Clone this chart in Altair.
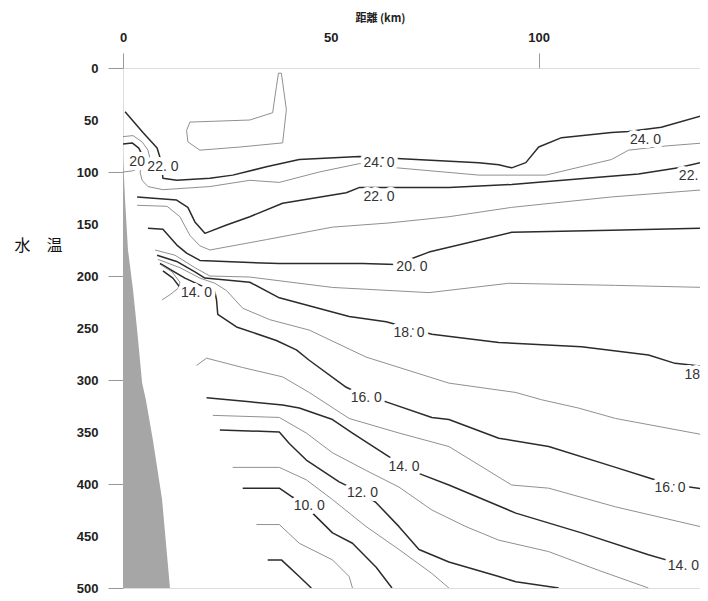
import altair as alt
import pandas as pd

# ---- contour lines read from the section: (distance km, depth m) ----
C25 = [(38.1, 5), (39.3, 40), (38.4, 72), (28.1, 76), (18.5, 79), (15.6, 71), (15.3, 60),
       (16.1, 52), (30.5, 50), (36.0, 43), (36.9, 18), (37.4, 5), (38.1, 5)]
C24 = [(0.5, 42), (4.8, 62), (8.2, 77), (8.9, 86), (9.4, 98), (9.6, 106), (12.9, 108), (20.9, 106),
       (26.4, 103), (34.5, 95), (42.4, 88), (52.0, 86), (56.8, 85), (65.9, 87), (85.6, 91), (90.4, 93),
       (93.5, 96), (96.9, 91), (100.0, 76), (105.5, 67), (117.5, 62), (121.6, 61), (129.5, 57), (140.0, 45)]
C23 = [(4.8, 93), (4.1, 100), (4.6, 108), (6.0, 114), (9.6, 117), (20.9, 114), (30.5, 108), (37.6, 110),
       (47.2, 100), (56.8, 92), (65.9, 96), (85.6, 103), (101.7, 103), (117.5, 88), (121.6, 79),
       (130.5, 75), (140.0, 72)]
C22 = [(3.4, 124), (12.9, 127), (15.6, 134), (17.3, 148), (19.7, 159), (24.9, 151), (30.5, 143),
       (38.4, 130), (53.7, 120), (56.8, 115), (65.9, 115), (78.4, 115), (93.5, 112), (114.4, 105),
       (124.0, 102), (133.6, 96), (140.0, 90)]
C21 = [(3.4, 132), (10.6, 133), (13.7, 143), (16.1, 161), (18.5, 171), (20.9, 175), (34.5, 165),
       (50.4, 153), (64.0, 149), (78.4, 143), (93.5, 134), (117.5, 124), (140.0, 117)]
C20 = [(6.0, 154), (9.6, 155), (12.9, 170), (15.3, 178), (18.5, 185), (30.5, 187), (37.6, 188),
       (57.6, 188), (65.7, 189), (73.6, 177), (93.5, 158), (117.5, 156), (140.0, 154)]
C19 = [(7.7, 175), (12.5, 180), (17.3, 192), (20.9, 200), (30.5, 201), (50.4, 211), (73.6, 216),
       (92.8, 207), (118.5, 209), (140.0, 211)]
C18 = [(8.2, 180), (12.9, 186), (17.3, 196), (19.7, 202), (30.5, 206), (37.6, 221), (54.4, 239),
       (63.3, 244), (74.3, 256), (90.4, 264), (110.3, 268), (126.4, 276), (132.8, 284), (140.0, 287)]
C17 = [(8.4, 184), (13.7, 192), (18.5, 202), (22.1, 207), (24.9, 214), (28.8, 231), (35.3, 242),
       (44.8, 252), (58.5, 278), (78.4, 303), (94.5, 312), (100.7, 319), (109.6, 327), (118.5, 337),
       (140.0, 353)]
C16 = [(8.9, 188), (14.9, 202), (19.7, 211), (22.1, 215), (22.5, 223), (22.8, 237), (27.3, 249),
       (36.9, 262), (41.7, 271), (44.8, 281), (53.7, 307), (58.5, 316), (63.3, 321), (74.3, 336),
       (78.4, 338), (90.4, 356), (102.4, 364), (118.5, 384), (126.4, 394), (131.2, 400), (140.0, 405)]
C15_HOOK = [(9.4, 190), (11.8, 196), (13.7, 206), (13.2, 212), (11.3, 218), (9.4, 223)]
C15 = [(17.7, 286), (20.1, 279), (28.8, 288), (38.4, 297), (44.8, 312), (54.4, 337), (66.4, 351),
       (78.4, 364), (93.5, 401), (102.4, 404), (118.5, 422), (140.0, 442)]
C14_HOOK = [(9.6, 195), (12.0, 202), (13.9, 212)]
C14 = [(20.1, 317), (30.5, 321), (38.4, 324), (42.4, 327), (50.4, 338), (55.2, 351), (63.3, 372),
       (67.6, 383), (71.9, 391), (78.4, 401), (94.5, 428), (110.3, 447), (126.4, 468), (135.0, 478),
       (140.0, 483)]
C13 = [(21.6, 334), (37.6, 336), (44.1, 351), (50.4, 370), (58.5, 387), (66.4, 403), (74.3, 425),
       (82.5, 441), (90.4, 454), (102.4, 465), (114.4, 483), (126.4, 500)]
C12 = [(23.3, 348), (37.6, 350), (40.0, 361), (44.1, 377), (52.0, 398), (57.6, 409), (60.9, 418),
       (66.4, 441), (71.2, 463), (78.4, 475), (90.4, 489), (94.5, 494), (104.8, 500)]
C11 = [(26.4, 384), (37.6, 384), (44.1, 396), (50.4, 415), (58.5, 441), (66.4, 463), (74.3, 486),
       (78.4, 500)]
C10 = [(28.8, 404), (37.6, 404), (40.5, 412), (44.8, 421), (45.6, 428), (50.4, 447), (55.2, 457),
       (60.9, 480), (64.7, 500)]
C9 = [(32.1, 439), (37.6, 439), (42.4, 457), (50.4, 473), (54.4, 489), (55.2, 500)]
C8 = [(34.8, 473), (38.1, 473), (42.4, 489), (45.3, 500)]
EDDY_A = [(0.0, 66), (2.4, 65), (4.6, 71), (6.0, 79), (6.5, 87), (5.8, 94)]
EDDY_B = [(0.0, 73), (2.2, 72), (3.8, 77), (4.8, 85)]
EDDY_C = [(0.0, 100), (2.2, 99), (4.1, 96)]

SEGMENTS = [
    ("c25", "thin", C25), ("c24", "thick", C24), ("c23", "thin", C23), ("c22", "thick", C22),
    ("c21", "thin", C21), ("c20", "thick", C20), ("c19", "thin", C19), ("c18", "thick", C18),
    ("c17", "thin", C17), ("c16", "thick", C16), ("c15h", "thin", C15_HOOK), ("c15", "thin", C15),
    ("c14h", "thick", C14_HOOK), ("c14", "thick", C14), ("c13", "thin", C13), ("c12", "thick", C12),
    ("c11", "thin", C11), ("c10", "thick", C10), ("c9", "thin", C9), ("c8", "thick", C8),
    ("ea", "thin", EDDY_A), ("eb", "thick", EDDY_B), ("ec", "thin", EDDY_C),
]

# ---- sea floor (grey slope) ----
LAND_DEPTH = [84, 127, 175, 213, 252, 303, 319, 358, 415, 500]
LAND_KM = [0.0, 0.5, 1.2, 2.4, 3.4, 4.6, 5.5, 7.2, 9.4, 11.3]

# ---- contour labels (centred) ----
LAB_TEXT = ["24. 0", "22. 0", "20. 0", "18. 0", "16. 0", "14. 0", "12. 0", "10. 0",
            "24. 0", "16. 0", "14. 0", "14. 0", "22. 0", "20"]
LAB_KM = [61.6, 61.6, 69.5, 68.8, 58.5, 67.6, 57.6, 44.8,
          125.7, 131.6, 134.8, 17.7, 9.6, 3.4]
LAB_DEPTH = [91, 124, 191, 255, 317, 384, 409, 421,
             69, 404, 479, 216, 95, 90]
# ---- contour labels at the right edge (right-aligned) ----
EDGE_TEXT = ["22.", "18"]
EDGE_KM = [138.4, 138.8]
EDGE_DEPTH = [104, 295]

X_MAX = 138.8
X_LABELS = [0, 50, 100]
Y_LABELS = list(range(0, 501, 50))

rows = []
for seg, w, pts in SEGMENTS:
    for i, (k, d) in enumerate(pts):
        rows.append({"seg": seg, "w": w, "i": i, "km": k, "depth": d})
lines_df = pd.DataFrame(rows)
land_df = pd.DataFrame({"km": LAND_KM, "depth": LAND_DEPTH})
lab_df = pd.DataFrame({"t": LAB_TEXT, "km": LAB_KM, "depth": LAB_DEPTH})
edge_df = pd.DataFrame({"t": EDGE_TEXT, "km": EDGE_KM, "depth": EDGE_DEPTH})

xs = alt.Scale(domain=[0, X_MAX], nice=False, zero=False)
ys = alt.Scale(domain=[0, 500], reverse=True, nice=False, zero=False)

xaxis = alt.Axis(
    orient="top", values=X_LABELS,
    tickOpacity={"condition": {"test": "datum.value == 50", "value": 0}, "value": 1},
    tickSize=15, tickColor="#999999", domain=False, grid=False, labelPadding=9,
    labelFontSize=13, labelFontWeight="bold", labelFont="Liberation Sans", labelColor="#222222",
    labelFlush=False, labelOverlap=False,
    title="距離 (km)", titleFontSize=11, titleFontWeight="bold", titleFont="Noto Sans CJK JP",
    titleColor="#222222", titleX=257, titleY=-50, titleAlign="center", titleBaseline="middle",
    titleAngle=0,
)
yaxis = alt.Axis(
    orient="left", values=Y_LABELS,
    tickOpacity={"condition": {"test": "datum.value % 100 != 0", "value": 0}, "value": 1},
    tickSize=15, tickColor="#999999", domain=False, grid=False, labelPadding=10,
    labelFontSize=13, labelFontWeight="bold", labelFont="Liberation Sans", labelColor="#222222",
    labelFlush=False, labelOverlap=False,
    title="水　温", titleFontSize=16, titleFontWeight="normal", titleFont="Noto Sans CJK JP",
    titleColor="#111111", titleAngle=0, titleX=-85, titleY=177, titleAlign="center",
    titleBaseline="middle",
)

X = alt.X("km:Q", scale=xs, axis=xaxis)
Y = alt.Y("depth:Q", scale=ys, axis=yaxis)

land = alt.Chart(land_df).mark_area(orient="horizontal", color="#a6a6a6").encode(
    x=alt.X("km:Q", scale=xs, axis=xaxis, stack=None), y=Y
)

lines = alt.Chart(lines_df).mark_line(clip=True, strokeJoin="round").encode(
    x=X, y=Y, detail="seg:N", order="i:Q",
    color=alt.Color("w:N", scale=alt.Scale(domain=["thick", "thin"], range=["#2b2b2b", "#909090"]), legend=None),
    strokeWidth=alt.StrokeWidth("w:N", scale=alt.Scale(domain=["thick", "thin"], range=[1.5, 1.0]), legend=None),
)

def label_layers(df, align):
    halo = alt.Chart(df).mark_text(
        font="Liberation Sans", fontSize=14, color="white", stroke="white", strokeWidth=8,
        strokeJoin="round", align=align, baseline="middle"
    ).encode(x=X, y=Y, text="t:N")
    txt = alt.Chart(df).mark_text(
        font="Liberation Sans", fontSize=14, color="#333333", align=align, baseline="middle"
    ).encode(x=X, y=Y, text="t:N")
    return [halo, txt]

layers = [land, lines] + label_layers(lab_df, "center") + label_layers(edge_df, "right")

chart = alt.layer(*layers).properties(
    width=577, height=520,
    autosize=alt.AutoSizeParams(type="none"),
    padding={"left": 115, "top": 60, "right": 0, "bottom": 8},
).configure_view(stroke="#999999", strokeWidth=1).configure(background="white")

chart.save("out.html", embed_options={"renderer": "svg", "actions": False})
